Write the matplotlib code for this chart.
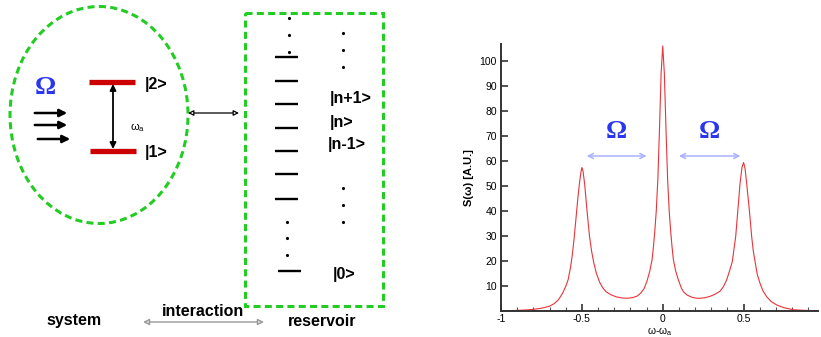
import numpy as np
import matplotlib
matplotlib.use('Agg')
import matplotlib.pyplot as plt
from matplotlib.patches import Ellipse, Rectangle
from matplotlib.ticker import FixedLocator, FixedFormatter, MultipleLocator

plt.rcParams['font.family'] = ['Liberation Sans', 'DejaVu Sans']

# spectrum
omega = [-1.0, -0.95, -0.9, -0.85, -0.8, -0.75, -0.7, -0.67, -0.645, -0.62,
         -0.60, -0.585, -0.57, -0.56, -0.548, -0.535, -0.525, -0.515, -0.507, -0.5,
         -0.493, -0.483, -0.468, -0.453, -0.44, -0.427, -0.41, -0.39, -0.37, -0.35,
         -0.32, -0.29, -0.25, -0.22, -0.19, -0.16, -0.135, -0.115, -0.097, -0.08,
         -0.066, -0.057, -0.049, -0.04, -0.03, -0.02, -0.01, 0.0,
         0.01, 0.02, 0.03, 0.04, 0.049, 0.057, 0.066, 0.08, 0.097, 0.115,
         0.128, 0.15, 0.18, 0.21, 0.231, 0.26, 0.29, 0.32, 0.354, 0.375,
         0.395, 0.413, 0.43, 0.441, 0.451, 0.464, 0.478, 0.49, 0.5, 0.509,
         0.519, 0.536, 0.55, 0.56, 0.571, 0.585, 0.602, 0.62, 0.643, 0.67,
         0.705, 0.75, 0.808, 0.85, 0.9, 0.96]
spectrum = [0.1, 0.15, 0.25, 0.4, 0.65, 1.1, 1.9, 3.0, 4.5, 7.0,
            9.8, 12.5, 17.5, 22, 29, 38, 45, 51, 55, 57.4,
            56, 51, 40, 30, 24, 19.5, 15, 11.5, 9.2, 7.7,
            6.5, 5.7, 5.2, 5.1, 5.3, 5.9, 7.2, 9.0, 12, 16,
            20.5, 26, 32, 40, 53, 73, 95, 106,
            95, 73, 53, 40, 32, 26, 20.5, 16, 12.4, 9.2,
            7.7, 6.4, 5.5, 5.1, 5.1, 5.3, 5.8, 6.6, 7.9, 9.7,
            12.4, 16, 19.7, 25, 29.7, 40, 51, 57.5, 59.4, 57,
            51, 40, 29.7, 24, 19.7, 14.5, 11, 8, 5.7, 3.8,
            2.4, 1.3, 0.5, 0.35, 0.2, 0.1]

xtick_vals = [-1, -0.5, 0, 0.5]
xtick_labels = ['-1', '-0.5', '0', '0.5']
ytick_vals = [10, 20, 30, 40, 50, 60, 70, 80, 90, 100]

W, H = 821, 337
fig = plt.figure(figsize=(W / 100, H / 100), dpi=100)

# ---- left: schematic, drawn in pixel units ----
dg = fig.add_axes([0, 0, 1, 1])
dg.set_xlim(0, W)
dg.set_ylim(H, 0)
dg.axis('off')

green = '#22cc22'
blue = '#2a35f0'
dash = (0, (2.3, 1.4))

dg.add_patch(Ellipse((99, 115), 178, 217, fill=False, ec=green, lw=2.2, ls=dash))
dg.add_patch(Rectangle((245, 13), 138, 293, fill=False, ec=green, lw=2.2, ls=dash))

dg.text(45, 88, 'Ω', color=blue, fontsize=19, fontweight='bold',
        family='Liberation Serif', ha='center', va='center')
for y0, x0, x1 in [(113, 32, 70), (125, 32, 70), (139, 35, 73)]:
    dg.annotate('', xy=(x1, y0), xytext=(x0, y0),
                arrowprops=dict(arrowstyle='-|>', color='black', lw=1.8, mutation_scale=11))

dg.plot([89, 135], [82, 82], color='#cc0000', lw=3.8, solid_capstyle='butt')
dg.plot([90, 136], [151, 151], color='#cc0000', lw=3.8, solid_capstyle='butt')
dg.annotate('', xy=(113, 84), xytext=(113, 149),
            arrowprops=dict(arrowstyle='<|-|>', color='black', lw=1.3, mutation_scale=9, shrinkA=0, shrinkB=0))
dg.text(130, 128, 'ω$_{\\mathregular{a}}$', fontsize=8, ha='left', va='center')

dg.text(145, 84, '|2>', fontsize=11.5, fontweight='bold', ha='left', va='center')
dg.text(145, 152, '|1>', fontsize=11.5, fontweight='bold', ha='left', va='center')

dg.annotate('', xy=(239, 113), xytext=(188, 113),
            arrowprops=dict(arrowstyle='<|-|>', fc='white', ec='black', lw=0.9, mutation_scale=8,
                            shrinkA=0, shrinkB=0))

# reservoir levels
for yl in [57, 81, 104, 128, 151, 174, 199]:
    dg.plot([275, 298], [yl, yl], color='black', lw=1.7, solid_capstyle='butt')
dg.plot([278, 301], [271, 271], color='black', lw=1.7, solid_capstyle='butt')
dg.plot([289, 289, 289], [18, 35, 52], 'k.', ms=2.5)
dg.plot([287, 287, 287], [222, 238, 255], 'k.', ms=2.5)
dg.plot([343, 343, 343], [33, 50, 67], 'k.', ms=2.5)
dg.plot([343, 343, 343], [188, 205, 222], 'k.', ms=2.5)

dg.text(330, 99, '|n+1>', fontsize=11.5, fontweight='bold', ha='left', va='center')
dg.text(330, 122, '|n>', fontsize=11.5, fontweight='bold', ha='left', va='center')
dg.text(328, 145, '|n-1>', fontsize=11.5, fontweight='bold', ha='left', va='center')
dg.text(333, 275, '|0>', fontsize=11.5, fontweight='bold', ha='left', va='center')

dg.text(74, 321, 'system', fontsize=11.5, fontweight='bold', ha='center', va='center')
dg.text(203, 311, 'interaction', fontsize=11.5, fontweight='bold', ha='center', va='center')
dg.text(322, 322, 'reservoir', fontsize=11.5, fontweight='bold', ha='center', va='center')
dg.annotate('', xy=(264, 322), xytext=(143, 322),
            arrowprops=dict(arrowstyle='<|-|>', fc='#dddddd', ec='#999999', lw=1.0, mutation_scale=9,
                            shrinkA=0, shrinkB=0))

# ---- right: spectrum ----
ax = fig.add_axes([501 / W, 1 - 311 / H, 317 / W, 267 / H])
ax.plot(omega, spectrum, color='#e8343a', lw=0.8)
ax.set_xlim(-1, 0.96)
ax.set_ylim(0, 106.8)
for s in ['top', 'right']:
    ax.spines[s].set_visible(False)
for s in ['left', 'bottom']:
    ax.spines[s].set_linewidth(1.4)
    ax.spines[s].set_color('#333333')
ax.xaxis.set_major_locator(FixedLocator(xtick_vals))
ax.xaxis.set_major_formatter(FixedFormatter(xtick_labels))
ax.xaxis.set_minor_locator(MultipleLocator(0.1))
ax.yaxis.set_major_locator(FixedLocator(ytick_vals))
ax.tick_params(axis='both', which='major', direction='in', length=5, width=1.2,
               color='#333333', labelsize=7.5, pad=2)
ax.tick_params(axis='x', which='minor', direction='in', length=3, width=0.8, color='#555555')
ax.tick_params(axis='y', pad=3)
ax.set_facecolor('none')
ax.set_ylabel('S(ω) [A.U.]', fontsize=8, fontweight='bold', labelpad=4)
ax.set_xlabel('ω-ω$_{\\mathregular{a}}$', fontsize=7.5, labelpad=1)

light = '#a9b2ff'
for x0, x1 in [(-0.47, -0.1), (0.1, 0.48)]:
    ax.annotate('', xy=(x1, 62), xytext=(x0, 62),
                arrowprops=dict(arrowstyle='<->', color=light, lw=1.1, mutation_scale=9,
                                shrinkA=0, shrinkB=0))
ax.text(-0.285, 72, 'Ω', color=blue, fontsize=19, fontweight='bold',
        family='Liberation Serif', ha='center', va='center')
ax.text(0.29, 72, 'Ω', color=blue, fontsize=19, fontweight='bold',
        family='Liberation Serif', ha='center', va='center')

fig.savefig('out.png', dpi=100)
